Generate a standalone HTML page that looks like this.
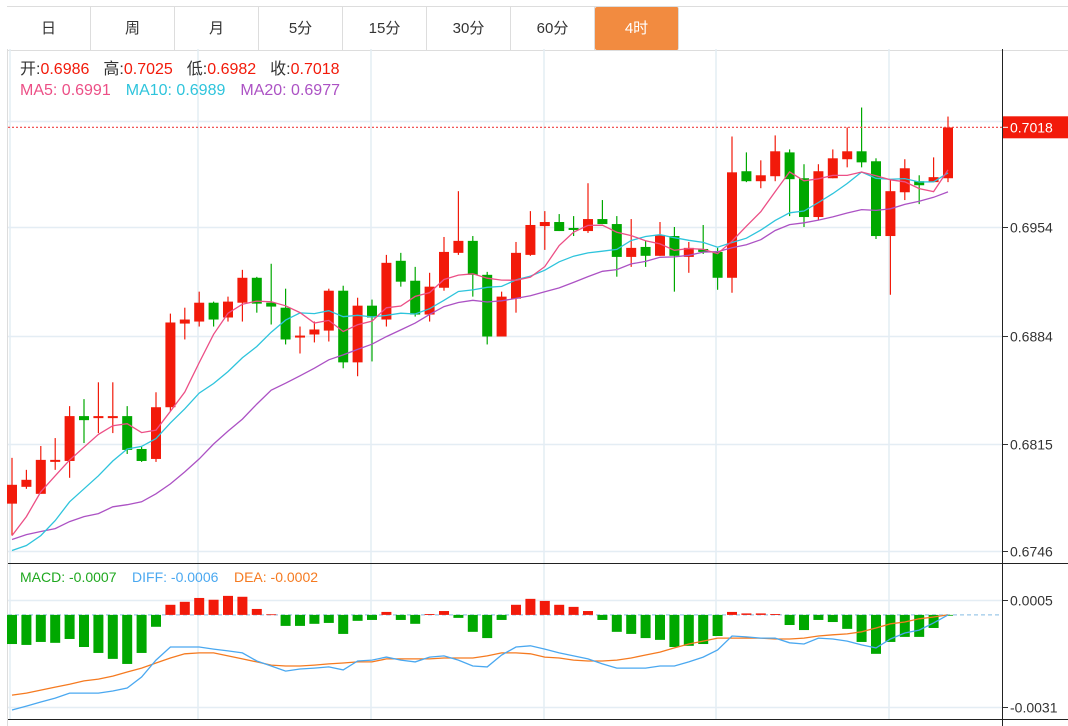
<!DOCTYPE html>
<html><head><meta charset="utf-8">
<style>
html,body{margin:0;padding:0;background:#fff;width:1068px;height:726px;overflow:hidden;font-family:"Liberation Sans","Noto Sans CJK SC",sans-serif;}
#tabs{position:absolute;left:7px;top:6px;height:43px;width:1061px;border-top:1px solid #ddd;border-bottom:1px solid #ddd;display:flex;}
.tab{width:83px;border-right:1px solid #ddd;text-align:center;line-height:43px;font-size:15px;color:#333;}
.tab.on{background:#f28b40;color:#fff;border-radius:2px;}
#legend{position:absolute;left:20px;top:59px;font-size:16px;line-height:21px;white-space:nowrap;}
#legend span.g{margin-right:14px;}
#legend span.m{margin-right:15px;}
#macdlegend{position:absolute;left:20px;top:567px;font-size:14px;line-height:20px;}
svg{position:absolute;left:0;top:0;}
</style></head><body>
<div id="tabs">
<div class="tab">日</div>
<div class="tab">周</div>
<div class="tab">月</div>
<div class="tab">5分</div>
<div class="tab">15分</div>
<div class="tab">30分</div>
<div class="tab">60分</div>
<div class="tab on">4时</div>
</div>
<svg id="chart" width="1068" height="726"></svg>
<div id="legend">
<div><span class="g"><span style="color:#333">开:</span><span style="color:#f21a0a">0.6986</span></span><span class="g"><span style="color:#333">高:</span><span style="color:#f21a0a">0.7025</span></span><span class="g"><span style="color:#333">低:</span><span style="color:#f21a0a">0.6982</span></span><span><span style="color:#333">收:</span><span style="color:#f21a0a">0.7018</span></span></div>
<div><span class="m" style="color:#ec4f86">MA5: 0.6991</span><span class="m" style="color:#2ec4dc">MA10: 0.6989</span><span style="color:#ac52c4">MA20: 0.6977</span></div>
</div>
<div id="macdlegend"><span style="color:#1fa81f">MACD: -0.0007</span>&nbsp;&nbsp;&nbsp; <span style="color:#4aa8f0">DIFF: -0.0006</span>&nbsp;&nbsp;&nbsp; <span style="color:#f57a20">DEA: -0.0002</span></div>
<script>
const opens=[.67764,.67872,.67827,.68038,.68038,.68326,.68313,.68313,.68326,.68115,.68051,.68383,.68920,.68933,.69054,.68959,.69054,.69214,.69054,.69022,.68831,.68850,.68875,.69131,.68671,.69035,.68946,.69323,.69195,.68978,.69150,.69374,.69451,.69233,.68837,.69080,.69361,.69546,.69572,.69534,.69514,.69591,.69559,.69348,.69412,.69355,.69482,.69348,.69399,.69380,.69214,.69898,.69834,.69866,.70019,.69853,.69604,.69853,.69975,.70026,.69962,.69482,.69763,.69834,.69828,.69853];
const highs=[.68058,.67981,.68134,.68185,.68390,.68435,.68543,.68543,.68390,.68128,.68479,.68984,.69022,.69125,.69061,.69093,.69265,.69220,.69304,.69144,.68901,.68933,.69144,.69163,.69086,.69074,.69361,.69374,.69284,.69246,.69476,.69770,.69482,.69252,.69125,.69444,.69642,.69642,.69623,.69610,.69821,.69713,.69610,.69591,.69451,.69572,.69540,.69444,.69553,.69406,.70121,.70019,.69968,.70128,.70038,.69943,.69943,.70038,.70179,.70307,.69981,.69840,.69975,.69872,.69987,.70249];
const lows=[.67559,.67859,.67827,.67981,.67930,.68153,.68217,.68217,.68083,.68032,.68032,.68358,.68818,.68901,.68901,.68933,.68933,.68990,.68914,.68786,.68728,.68799,.68805,.68633,.68582,.68677,.68901,.69157,.68965,.68933,.69131,.69361,.69093,.68786,.68837,.68990,.69355,.69393,.69514,.69482,.69502,.69559,.69221,.69284,.69284,.69355,.69125,.69246,.69367,.69137,.69118,.69828,.69789,.69834,.69610,.69540,.69585,.69853,.69923,.69923,.69463,.69105,.69713,.69687,.69828,.69828];
const closes=[.67885,.67917,.68045,.68045,.68326,.68300,.68326,.68326,.68109,.68038,.68383,.68927,.68946,.69054,.68946,.69061,.69214,.69048,.69029,.68818,.68843,.68882,.69131,.68671,.69035,.68959,.69310,.69189,.68978,.69157,.69380,.69451,.69233,.68837,.69093,.69374,.69553,.69572,.69514,.69521,.69591,.69559,.69348,.69406,.69355,.69489,.69355,.69406,.69380,.69214,.69891,.69834,.69872,.70026,.69847,.69604,.69898,.69981,.70026,.69955,.69482,.69770,.69917,.69808,.69860,.70179];
const ma5Start=[.67559,.67681,.67840,.67943];
const ma10Start=[.67463,.67495,.67559,.67655,.67776,.67859,.67943,.68038,.68115];
const ma20Start=[.67534,.67565,.67585,.67604,.67649,.67681,.67700,.67744,.67757,.67776,.67827,.67891,.67968,.68051,.68147,.68230,.68307,.68403,.68492];
// MACD values in units of 0.001
const macdHist=[-0.98,-1.01,-0.91,-0.94,-0.81,-1.08,-1.28,-1.48,-1.65,-1.28,-0.40,0.34,0.44,0.57,0.51,0.64,0.61,0.20,0.02,-0.37,-0.37,-0.30,-0.27,-0.64,-0.20,-0.17,0.10,-0.17,-0.30,0.03,0.13,-0.10,-0.57,-0.78,-0.17,0.34,0.54,0.47,0.34,0.27,0.13,-0.17,-0.57,-0.64,-0.78,-0.84,-1.08,-1.04,-0.98,-0.71,0.10,0.05,0.05,0.03,-0.34,-0.51,-0.17,-0.24,-0.47,-0.91,-1.31,-0.91,-0.74,-0.74,-0.44,-0.01];
const diffVals=[-3.20,-3.07,-2.93,-2.80,-2.63,-2.63,-2.63,-2.56,-2.46,-2.09,-1.52,-1.08,-1.08,-1.08,-1.15,-1.21,-1.28,-1.55,-1.72,-1.89,-1.82,-1.79,-1.75,-1.85,-1.55,-1.52,-1.42,-1.52,-1.58,-1.42,-1.38,-1.52,-1.72,-1.75,-1.35,-1.08,-1.04,-1.15,-1.28,-1.38,-1.48,-1.65,-1.79,-1.79,-1.79,-1.72,-1.72,-1.58,-1.42,-1.18,-0.71,-0.74,-0.78,-0.78,-0.94,-0.98,-0.78,-0.81,-0.88,-1.01,-1.11,-0.81,-0.61,-0.51,-0.27,0];
const deaVals=[-2.70,-2.63,-2.53,-2.43,-2.33,-2.22,-2.16,-2.06,-1.92,-1.79,-1.62,-1.45,-1.31,-1.28,-1.28,-1.38,-1.48,-1.58,-1.69,-1.72,-1.72,-1.69,-1.65,-1.62,-1.58,-1.58,-1.48,-1.48,-1.48,-1.48,-1.45,-1.45,-1.45,-1.38,-1.28,-1.28,-1.31,-1.42,-1.45,-1.52,-1.55,-1.55,-1.52,-1.45,-1.35,-1.25,-1.11,-0.98,-0.88,-0.78,-0.78,-0.78,-0.78,-0.81,-0.81,-0.78,-0.71,-0.67,-0.64,-0.57,-0.44,-0.30,-0.24,-0.13,-0.07,0];
const priceTicks=[0.7022,0.6954,0.6884,0.6815,0.6746];
const macdTicks=[0.0005,-0.0031];
const lastPrice=0.7018;

const NS="http://www.w3.org/2000/svg";
const svg=document.getElementById('chart');
function mk(tag,attrs,parent){const e=document.createElementNS(NS,tag);for(const k in attrs)e.setAttribute(k,attrs[k]);(parent||svg).appendChild(e);return e;}
const X0=12,STEP=14.4,RIGHT=1002;
const xAt=i=>X0+i*STEP;
const yP=p=>227-(p-0.6954)*15577;
const yM=v=>614.9-v*29722;
const RED="#f21a0a",GREEN="#00a800";

let g=mk('g',{});


mk('line',{x1:7.5,y1:49,x2:7.5,y2:726,stroke:'#ddd'},g);
const vgrid=[10,198,371,544,716,889];
vgrid.forEach(x=>{const l=mk('line',{x1:x,y1:49,x2:x,y2:719,stroke:'#e4edf4','stroke-width':1.5},g);

});
priceTicks.forEach(t=>{const y=Math.round(yP(t))+0.5;
const l=mk('line',{x1:8,y1:y,x2:RIGHT,y2:y,stroke:'#e4edf4','stroke-width':1.5},g);


mk('line',{x1:RIGHT,y1:y,x2:RIGHT+6,y2:y,stroke:'#333'},g);
const tx=mk('text',{x:1010,y:y+5,'font-size':14,fill:'#333'},g);tx.textContent=t.toFixed(4);

});
macdTicks.forEach(t=>{const y=Math.round(yM(t))+0.5;
const l=mk('line',{x1:8,y1:y,x2:RIGHT,y2:y,stroke:'#e4edf4','stroke-width':1.5},g);


mk('line',{x1:RIGHT,y1:y,x2:RIGHT+6,y2:y,stroke:'#333'},g);
const tx=mk('text',{x:1010,y:y+5,'font-size':14,fill:'#333'},g);tx.textContent=t.toFixed(4);

});

function maSeries(n,start){const out=[];for(let i=0;i<closes.length;i++){if(i<n-1)out.push(start[i]);else{let s=0;for(let j=i-n+1;j<=i;j++)s+=closes[j];out.push(s/n);}}return out;}
function polyline(vals,yf,color,name){const pts=vals.map((v,i)=>xAt(i).toFixed(1)+','+yf(v).toFixed(1)).join(' ');
const p=mk('polyline',{points:pts,fill:'none',stroke:color,'stroke-width':1.3});

return p;}

const cg=mk('g',{});


for(let i=0;i<opens.length;i++){
const up=closes[i]>=opens[i];const col=up?RED:GREEN;const x=xAt(i);
const w=mk('line',{x1:x,y1:yP(highs[i]),x2:x,y2:yP(lows[i]),stroke:col,'stroke-width':1.2},cg);


const top=yP(Math.max(opens[i],closes[i])),bot=yP(Math.min(opens[i],closes[i]));
const r=mk('rect',{x:x-5,y:top,width:10,height:Math.max(2,bot-top),fill:col},cg);


}
polyline(maSeries(20,ma20Start),yP,'#ac52c4','ma20-line');
polyline(maSeries(10,ma10Start),yP,'#2ec4dc','ma10-line');
polyline(maSeries(5,ma5Start),yP,'#ec4f86','ma5-line');

const ly=yP(lastPrice);
const dl=mk('line',{x1:8,y1:ly,x2:RIGHT,y2:ly,stroke:'#f04040','stroke-width':1.2,'stroke-dasharray':'2,2'});


const tag=mk('rect',{x:RIGHT+1,y:ly-11,width:66,height:22,fill:'#f21a0a'});


mk('line',{x1:RIGHT,y1:ly,x2:RIGHT+6,y2:ly,stroke:'#fff'});
const tt=mk('text',{x:1010,y:ly+5,'font-size':14,fill:'#fff'});tt.textContent=lastPrice.toFixed(4);



const z=yM(0);
const zl=mk('line',{x1:8,y1:z,x2:RIGHT,y2:z,stroke:'#9cc8e8','stroke-width':1.2,'stroke-dasharray':'4,3'});


const hg=mk('g',{});


macdHist.forEach((v,i)=>{const y=yM(v/1000);const b=mk('rect',{x:xAt(i)-5,y:Math.min(y,z),width:10,height:Math.max(0.8,Math.abs(y-z)),fill:v>=0?RED:GREEN},hg);

});
polyline(deaVals.map(v=>v/1000),yM,'#f57a20','dea-line');
polyline(diffVals.map(v=>v/1000),yM,'#4aa8f0','diff-line');

mk('line',{x1:RIGHT+0.5,y1:49,x2:RIGHT+0.5,y2:726,stroke:'#222'});
mk('line',{x1:8,y1:563.5,x2:1068,y2:563.5,stroke:'#222'});
mk('line',{x1:8,y1:719.5,x2:1068,y2:719.5,stroke:'#222'});
</script>
</body></html>
